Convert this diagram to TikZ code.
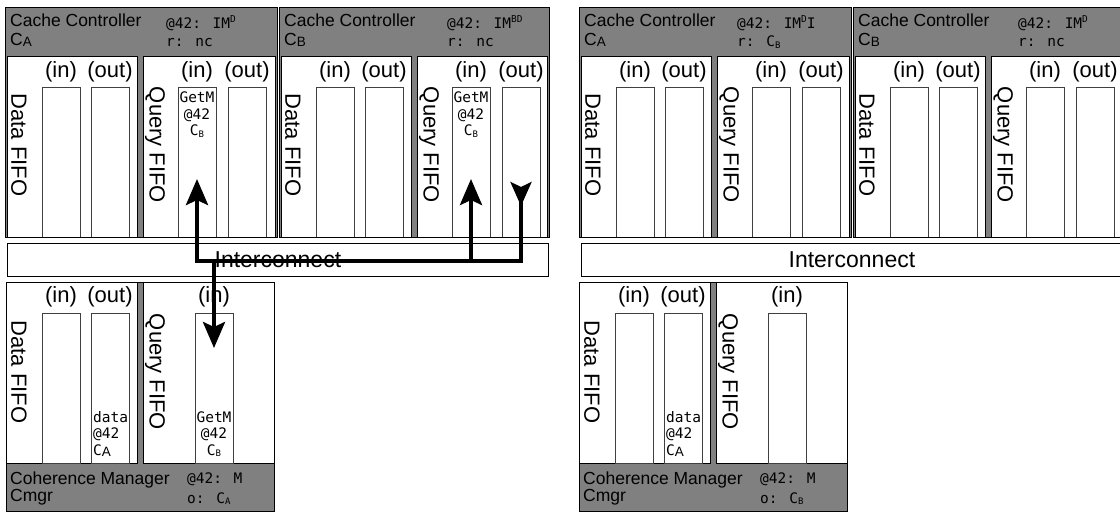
\documentclass[tikz,border=0pt]{standalone}
\usepackage{fontspec}
\setmainfont{Liberation Sans}
\newfontfamily\monofam{DejaVu Sans Mono}
\usetikzlibrary{arrows.meta,calc}
\definecolor{hdrgray}{RGB}{128,128,128}
\newcommand\hdrf{\fontsize{17.5}{19}\selectfont}
\newcommand\labf{\fontsize{22}{24}\selectfont}
\newcommand\icf{\fontsize{23}{25}\selectfont}
\newcommand\mf{\monofam\fontsize{14.5}{16.5}\selectfont}
\newcommand\msup[1]{\raisebox{0.36em}{\fontsize{9.5}{10}\selectfont #1}}
\newcommand\msub[1]{\raisebox{-0.12em}{\fontsize{9}{10}\selectfont #1}}
\newcommand\ssub[1]{\raisebox{-0.1em}{\fontsize{13.5}{14}\selectfont\rmfamily #1}}
\tikzset{
  outerfill/.style={fill=hdrgray, draw=none, inner sep=0pt, outer sep=0pt, anchor=north west},
  frame/.style={draw=black, line width=0.8pt, fill=none, inner sep=0pt, outer sep=0pt, anchor=north west},
  panel/.style={draw=black, line width=0.6pt, fill=white, inner sep=0pt, outer sep=0pt, anchor=north west},
  slot/.style={draw=black!75, line width=0.6pt, fill=white, inner sep=0pt, outer sep=0pt, anchor=north west, minimum width=38pt, minimum height=150pt},
  fifolab/.style={font=\labf, rotate=-90, inner sep=0pt},
  iolab/.style={font=\labf, inner sep=0pt},
  hdr/.style={font=\hdrf, anchor=base west, inner sep=0pt},
  mono/.style={font=\mf, anchor=base west, inner sep=0pt},
  slottext/.style={font=\mf, inner sep=0pt},
  icbox/.style={draw=black, line width=0.8pt, fill=white, inner sep=0pt, anchor=north west, minimum height=33pt, font=\icf},
  flow/.style={line width=4pt, line join=miter, draw=black},
  head/.tip={Stealth[length=26pt, width=22pt, inset=5pt]},
  rhead/.tip={Stealth[length=24pt, width=21pt, inset=5pt, reversed]}
}
% cache controller module
\newcommand\ccmod[8]{%
\begin{scope}[shift={(#2,#3)}]
\node[outerfill, minimum width=#4pt, minimum height=230pt] (#1) at (0,0) {};
\node[panel, minimum width=130pt, minimum height=181pt] (#1-dp) at (2,49) {};
\node[panel, minimum width={#4pt-140pt}, minimum height=181pt] (#1-qp) at (138,49) {};
\node[slot] (#1-din) at (37,80) {};
\node[slot] (#1-dout) at (86,80) {};
\node[slot] (#1-qin) at (173,80) {};
\node[slot] (#1-qout) at (223,80) {};
\node[fifolab] (#1-dl) at (14,138) {Data FIFO};
\node[fifolab] (#1-ql) at (150,138) {Query FIFO};
\node[iolab] (#1-dil) at (56,65) {(in)};
\node[iolab] (#1-dol) at (105,65) {(out)};
\node[iolab] (#1-qil) at (192,65) {(in)};
\node[iolab] (#1-qol) at (242,65) {(out)};
\node[hdr] (#1-t1) at (5,19) {Cache Controller};
\node[hdr] (#1-t2) at (5,38) {C\ssub{#5}};
\node[mono] (#1-m1) at (#6,21) {#7};
\node[mono] (#1-m2) at (#6,39.5) {#8};
\node[frame, minimum width=#4pt, minimum height=230pt] (#1-fr) at (0,0) {};
\end{scope}}
% coherence manager module
\newcommand\cmmod[4]{%
\begin{scope}[shift={(#2,#3)}]
\node[outerfill, minimum width=268pt, minimum height=229pt] (#1) at (0,0) {};
\node[panel, minimum width=131pt, minimum height=181pt] (#1-dp) at (0,0) {};
\node[panel, minimum width=131pt, minimum height=181pt] (#1-qp) at (137,0) {};
\node[slot] (#1-din) at (36,31) {};
\node[slot] (#1-dout) at (85,31) {};
\node[slot] (#1-qin) at (189,31) {};
\node[fifolab] (#1-dl) at (13,90) {Data FIFO};
\node[fifolab] (#1-ql) at (149,90) {Query FIFO};
\node[iolab] (#1-dil) at (55,15) {(in)};
\node[iolab] (#1-dol) at (104,15) {(out)};
\node[iolab] (#1-qil) at (208,15) {(in)};
\node[hdr] (#1-t1) at (4,202) {Coherence Manager};
\node[hdr] (#1-t2) at (4,219) {Cmgr};
\node[mono] (#1-m1) at (181,201) {@42: M};
\node[mono] (#1-m2) at (181,221) {o: C\msub{#4}};
\node[frame, minimum width=268pt, minimum height=229pt] (#1-fr) at (0,0) {};
\end{scope}}
\begin{document}
\begin{tikzpicture}[x=1pt,y=-1pt]
\useasboundingbox (0,0) rectangle (1120,512);
\clip (0,0) rectangle (1120,512);
\fill[white] (0,0) rectangle (1120,512);
% left scenario
\ccmod{lA}{5}{7}{272}{A}{161}{@42: IM\msup{D}}{r: nc}
\ccmod{lB}{279}{7}{270}{B}{168}{@42: IM\msup{BD}}{r: nc}
\node[icbox, minimum width=541pt] (icL) at (7,243) {Interconnect};
\cmmod{lM}{6}{282}{A}
% right scenario
\ccmod{rA}{579}{7}{272}{A}{158}{@42: IM\msup{D}I}{r: C\msub{B}}
\ccmod{rB}{853}{7}{272}{B}{165}{@42: IM\msup{D}}{r: nc}
\node[icbox, minimum width=541pt] (icR) at (581,243) {Interconnect};
\cmmod{rM}{579}{282}{B}
% slot contents
\node[slottext, anchor=north, align=center] (lA-qin-t) at ($(lA-qin.north)+(0,5)$) {GetM\\@42\\C\msub{B}};
\node[slottext, anchor=north, align=center] (lB-qin-t) at ($(lB-qin.north)+(0,5)$) {GetM\\@42\\C\msub{B}};
\node[slottext, anchor=south, align=center] (lM-qin-t) at ($(lM-qin.south)+(0,-6)$) {GetM\\@42\\C\msub{B}};
\node[slottext, anchor=south west, align=left] (lM-dout-t) at ($(lM-dout.south west)+(2,-6)$) {data\\@42\\C\ssub{A}};
\node[slottext, anchor=south west, align=left] (rM-dout-t) at ($(rM-dout.south west)+(2,-6)$) {data\\@42\\C\ssub{A}};
% message arrows
\coordinate (hy) at (0,261);
\coordinate (ty) at (0,179);
\coordinate (by) at (0,182);
\coordinate (my) at (0,348);
\draw[flow, {rhead}-{head}] (lB-qout |- by) -- (lB-qout |- hy) -- (lA-qin |- hy) -- (lA-qin |- ty);
\draw[flow, -{head}] (lB-qin |- hy) -- (lB-qin |- ty);
\draw[flow, -{head}] (lM-qin |- hy) -- (lM-qin |- my);
\end{tikzpicture}
\end{document}
